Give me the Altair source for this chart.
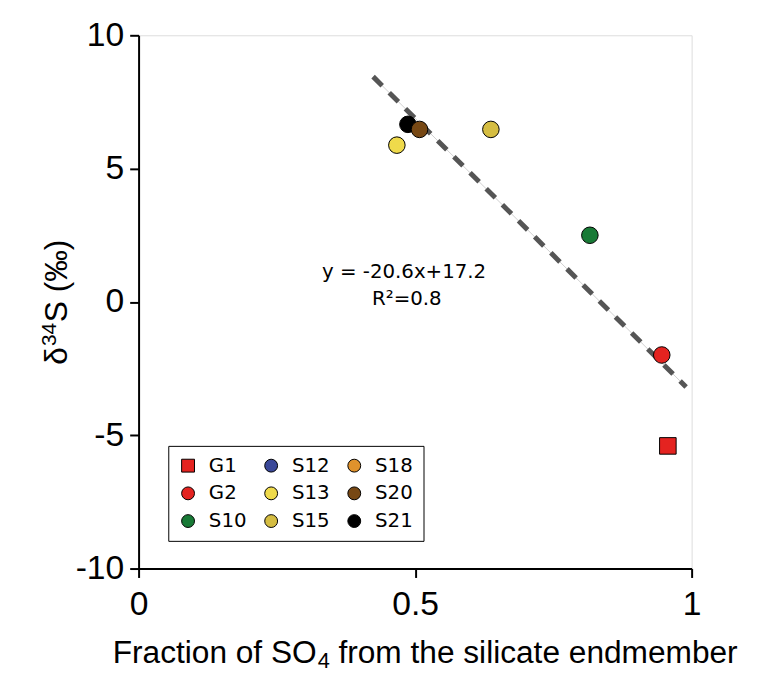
import altair as alt
import pandas as pd

# ---- data ----
samples = ["G1", "G2", "S10", "S13", "S15", "S21", "S20"]
x_frac = [0.957, 0.946, 0.816, 0.467, 0.637, 0.487, 0.508]
d34s = [-5.40, -1.99, 2.50, 5.88, 6.47, 6.66, 6.47]

# legend entries (legend is filled column by column, 3 columns)
legend_order = ["G1", "G2", "S10", "S12", "S13", "S15", "S18", "S20", "S21"]
legend_colors = ["#E42320", "#E42320", "#187A36", "#3A4899", "#EFDA4B",
                 "#D5BD42", "#DF922C", "#774814", "#000000"]
legend_shapes = ["square", "circle", "circle", "circle", "circle",
                 "circle", "circle", "circle", "circle"]

# regression line end points
fit_x = [0.424, 0.99]
fit_y = [8.45, -3.19]

eq_text = ["y = -20.6x+17.2", "R²=0.8"]
xtitle_parts = ["Fraction of SO", "4", "from the silicate endmember"]
ytitle_parts = ["δ", "34", "S (‰)"]
x_ticks = [0, 0.5, 1]
y_ticks = [-10, -5, 0, 5, 10]

pts = pd.DataFrame({"sample": samples, "x": x_frac, "y": d34s})
fit = pd.DataFrame({"x": fit_x, "y": fit_y})

FONT = "Liberation Sans"

xscale = alt.Scale(domain=[0, 1], nice=False, zero=False)
yscale = alt.Scale(domain=[-10, 10], nice=False, zero=False)

xaxis = alt.Axis(values=x_ticks, labelExpr="'' + datum.value", grid=False,
                 tickSize=9, tickWidth=2, domainWidth=2,
                 domainColor="black", tickColor="black",
                 labelFont=FONT, labelFontSize=34, labelColor="black",
                 labelPadding=10, labelFlush=False, labelOverlap=False,
                 title=None)
yaxis = alt.Axis(values=y_ticks, labelExpr="'' + datum.value",
                 grid=False,
                 tickSize=9, tickWidth=2, domainWidth=2,
                 domainColor="black", tickColor="black",
                 labelFont=FONT, labelFontSize=34, labelColor="black",
                 labelPadding=6, labelOverlap=False,
                 title=None)

thin = alt.Chart(fit).mark_line(color="#cfcfcf", strokeWidth=1).encode(
    x=alt.X("x:Q", scale=xscale, axis=xaxis),
    y=alt.Y("y:Q", scale=yscale, axis=yaxis),
)
dashed = alt.Chart(fit).mark_line(color="#555555", strokeWidth=5,
                                  strokeDash=[13, 10]).encode(
    x=alt.X("x:Q", scale=xscale),
    y=alt.Y("y:Q", scale=yscale),
)

legend = alt.Legend(title=None, orient="none", legendX=30, legendY=415,
                    columns=3, columnPadding=14, rowPadding=8, padding=10,
                    values=legend_order,
                    strokeColor="black", fillColor="white",
                    symbolSize=169, symbolStrokeColor="black",
                    symbolStrokeWidth=1, labelFont="DejaVu Sans",
                    labelFontSize=20, labelColor="black", labelOffset=11)

points = alt.Chart(pts).mark_point(filled=True, size=280, opacity=1,
                                   stroke="black", strokeWidth=1).encode(
    x=alt.X("x:Q", scale=xscale),
    y=alt.Y("y:Q", scale=yscale),
    color=alt.Color("sample:N",
                    scale=alt.Scale(domain=legend_order, range=legend_colors),
                    legend=legend),
    shape=alt.Shape("sample:N",
                    scale=alt.Scale(domain=legend_order, range=legend_shapes),
                    legend=legend),
)


def txt(s, **kw):
    return alt.Chart(pd.DataFrame({"t": [s]})).mark_text(**kw)


eq1 = txt(eq_text[0], font="DejaVu Sans", fontSize=20, color="black",
          align="center", baseline="alphabetic").encode(
    x=alt.datum(0.48), y=alt.datum(0.91), text="t:N")
eq2 = txt(eq_text[1], font="DejaVu Sans", fontSize=20, color="black",
          align="center", baseline="alphabetic").encode(
    x=alt.datum(0.485), y=alt.datum(-0.13), text="t:N")

# x-axis title with subscript
xt1 = txt(xtitle_parts[0], font=FONT, fontSize=32, color="black",
          align="right", baseline="alphabetic").encode(
    x=alt.value(180), y=alt.value(634), text="t:N")
xt2 = txt(xtitle_parts[1], font=FONT, fontSize=22, color="black",
          align="left", baseline="alphabetic").encode(
    x=alt.value(181), y=alt.value(640), text="t:N")
xt3 = txt(xtitle_parts[2], font=FONT, fontSize=32, color="black",
          align="left", baseline="alphabetic").encode(
    x=alt.value(202), y=alt.value(634), text="t:N")

# y-axis title with superscript (rotated, reads bottom to top)
yt1 = txt(ytitle_parts[0], font=FONT, fontSize=32, color="black", angle=270,
          align="left", baseline="alphabetic").encode(
    x=alt.value(-72), y=alt.value(333), text="t:N")
yt2 = txt(ytitle_parts[1], font=FONT, fontSize=21, color="black", angle=270,
          align="left", baseline="alphabetic").encode(
    x=alt.value(-83), y=alt.value(314), text="t:N")
yt3 = txt(ytitle_parts[2], font=FONT, fontSize=32, color="black", angle=270,
          align="left", baseline="alphabetic").encode(
    x=alt.value(-72), y=alt.value(290), text="t:N")

chart = alt.layer(thin, dashed, points, eq1, eq2,
                  xt1, xt2, xt3, yt1, yt2, yt3).properties(
    width=559, height=539,
    padding={"left": 132, "top": 24, "right": 59, "bottom": 104},
    autosize=alt.AutoSizeParams(type="none"),
).configure_view(stroke="black", strokeWidth=2).configure(background="white")

chart.save("out.html", embed_options={"renderer": "svg", "actions": False})
